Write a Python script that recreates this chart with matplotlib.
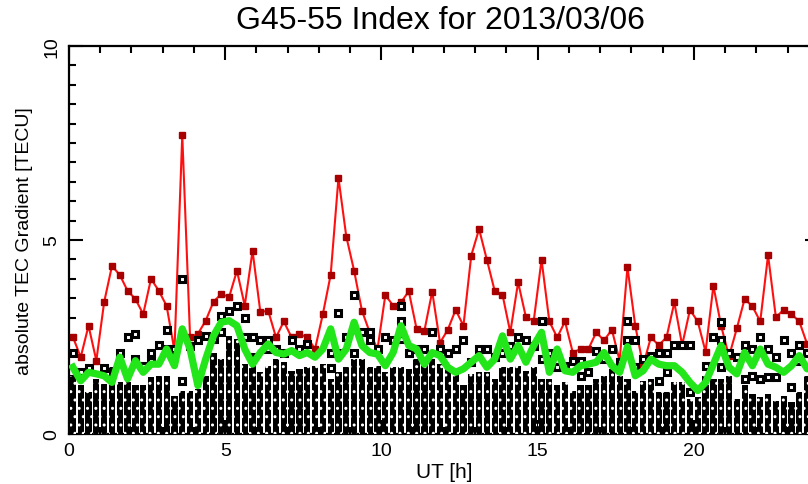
import matplotlib
matplotlib.use("Agg")
import matplotlib.pyplot as plt
import numpy as np

plt.rcParams['font.family'] = ['Liberation Sans Narrow', 'Liberation Sans', 'DejaVu Sans']
plt.rcParams['hatch.color'] = 'white'
plt.rcParams['hatch.linewidth'] = 1.0

# 15-minute bins, centred
ut = np.arange(96) * 0.25 + 0.125

# maximum gradient per bin (red)
grad_max = [2.50, 1.98, 2.79, 1.89, 3.40, 4.33, 4.10, 3.69, 3.48, 3.09, 4.00, 3.69,
            3.30, 2.15, 7.70, 2.50, 2.58, 2.92, 3.41, 3.61, 3.53, 4.21, 3.31, 4.72,
            3.14, 3.18, 2.49, 2.90, 2.49, 2.58, 2.49, 2.19, 3.09, 4.10, 6.60, 5.09,
            4.21, 3.18, 2.62, 2.19, 3.58, 3.31, 3.39, 3.68, 2.71, 2.66, 3.67, 2.35,
            2.69, 3.20, 2.79, 4.60, 5.28, 4.49, 3.69, 3.59, 2.62, 3.91, 3.01, 2.92,
            4.49, 2.90, 2.49, 2.90, 2.10, 2.19, 2.19, 2.62, 2.41, 2.69, 1.89, 4.30,
            2.79, 1.76, 2.49, 2.29, 2.49, 3.39, 2.29, 3.20, 2.90, 2.12, 3.82, 2.78,
            2.00, 2.72, 3.48, 3.29, 2.90, 4.61, 3.01, 3.20, 3.09, 2.90, 2.32, 2.53]

# mean gradient per bin (green)
grad_mean = [1.72, 1.37, 1.59, 1.55, 1.50, 1.33, 1.98, 1.42, 1.89, 1.59, 1.80, 1.80,
             2.19, 1.76, 2.71, 2.19, 1.25, 1.93, 2.53, 2.88, 2.92, 2.79, 2.19, 1.80,
             2.10, 2.32, 2.10, 2.06, 2.15, 2.02, 2.10, 1.98, 2.19, 2.71, 1.93, 2.19,
             2.88, 2.28, 2.10, 2.06, 1.76, 2.10, 2.79, 2.28, 2.19, 1.80, 2.10, 2.02,
             1.72, 1.59, 1.68, 1.85, 2.02, 1.72, 1.93, 2.53, 1.93, 2.28, 1.85, 2.28,
             2.62, 1.59, 2.19, 1.63, 1.59, 1.76, 1.80, 1.85, 2.10, 1.76, 1.59, 2.25,
             1.50, 1.63, 1.93, 1.80, 1.76, 1.76, 1.59, 1.33, 1.12, 1.33, 1.80, 2.28,
             1.72, 1.55, 2.10, 1.76, 2.19, 1.80, 1.72, 1.59, 1.76, 2.02, 1.68, 1.80]

# level up to which the single-link values are packed together
dense_top = [1.50, 1.25, 1.07, 1.42, 1.29, 1.72, 1.33, 1.33, 1.25, 1.25, 1.46, 1.50,
             1.50, 0.99, 1.12, 1.12, 1.16, 1.50, 2.10, 1.93, 2.53, 2.45, 1.80, 2.10,
             1.59, 1.76, 1.93, 1.85, 1.63, 1.68, 1.72, 1.76, 1.80, 1.42, 1.59, 1.72,
             1.93, 1.93, 1.72, 1.76, 1.59, 1.72, 1.72, 1.68, 1.93, 1.93, 1.93, 1.80,
             1.72, 1.59, 1.25, 1.55, 1.59, 1.59, 1.42, 1.72, 1.72, 1.76, 1.63, 1.72,
             1.42, 1.42, 1.25, 1.33, 1.12, 1.25, 1.25, 1.42, 1.50, 1.68, 1.50, 1.42,
             1.12, 1.37, 1.42, 1.07, 1.07, 1.33, 1.33, 0.90, 0.95, 1.50, 1.42, 1.42,
             1.50, 0.90, 1.25, 1.03, 0.95, 1.03, 0.86, 0.99, 0.82, 1.07, 1.50, 1.50]

# isolated single-link values above the packed part (bin index, value)
extra_bin = [0, 1, 2, 4, 6, 7, 8, 8, 9, 10, 10, 11, 12, 12, 13, 14, 14, 15, 16, 17,
             18, 19, 19, 20, 21, 22, 22, 23, 24, 25, 25, 26, 27, 28, 29, 30, 33, 33,
             34, 34, 35, 36, 36, 37, 38, 38, 39, 40, 41, 42, 42, 42, 43, 44, 45, 46,
             47, 48, 49, 50, 51, 52, 53, 54, 55, 56, 57, 58, 59, 60, 60, 61, 62, 63,
             64, 65, 65, 66, 67, 68, 69, 70, 71, 71, 72, 72, 73, 74, 75, 75, 76, 76,
             77, 78, 79, 79, 81, 82, 83, 83, 83, 84, 85, 86, 86, 87, 87, 88, 88, 89,
             89, 90, 90, 91, 92, 92, 93, 93, 94]
extra_val = [2.10, 1.59, 1.69, 1.69, 2.10, 2.49, 2.58, 1.93, 1.76, 2.10, 1.89, 2.29,
             2.69, 2.19, 2.19, 4.00, 1.37, 2.28, 2.41, 2.53, 2.45, 3.05, 2.62, 3.18,
             3.31, 2.99, 2.49, 2.49, 2.41, 2.41, 2.19, 2.19, 2.10, 2.41, 2.19, 2.32,
             2.10, 1.69, 3.11, 2.10, 2.49, 3.59, 2.10, 2.62, 2.62, 2.41, 2.19, 2.49,
             2.41, 3.29, 2.92, 2.45, 2.10, 2.19, 2.19, 2.62, 2.19, 2.10, 2.19, 2.41,
             1.85, 2.19, 2.19, 1.98, 2.10, 2.28, 2.49, 2.41, 2.28, 2.90, 1.93, 2.10,
             1.72, 1.76, 1.89, 1.89, 1.50, 1.59, 2.15, 1.93, 2.19, 1.85, 2.90, 2.41,
             2.41, 1.72, 1.93, 2.02, 2.10, 1.37, 2.10, 1.59, 2.29, 2.29, 2.29, 1.07,
             1.76, 2.49, 2.88, 2.41, 1.72, 2.10, 1.98, 2.29, 1.42, 2.19, 1.50, 2.49,
             1.42, 2.19, 1.46, 1.98, 1.46, 2.41, 2.10, 1.20, 2.29, 1.89, 2.10]

fig = plt.figure(figsize=(8.08, 4.85), dpi=100)
ax = fig.add_axes([0.0854, 0.1031, 0.928, 0.80])

ax.plot(ut, grad_max, color='#ff1010', lw=1.5, marker='s', ms=3.8,
        mfc='#a80000', mec='#a80000', zorder=2)

ax.bar(ut, dense_top, width=0.2, color='black', edgecolor='white', lw=0,
       hatch='..', zorder=3)
ax.plot(ut[extra_bin], extra_val, ls='none', marker='s', ms=4.0, mfc='white',
        mec='black', mew=2.2, zorder=3)

ax.plot(ut, grad_mean, color='#22e51a', lw=5.2, solid_joinstyle='round', zorder=4)

ax.set_xlim(0, 24)
ax.set_ylim(0, 10)
ax.set_xticks([0, 5, 10, 15, 20])
ax.set_xticks(np.arange(0, 25, 1), minor=True)
ax.set_yticks([0, 5, 10])
ax.set_yticks(np.arange(0, 10.5, 0.5), minor=True)
ax.tick_params(which='both', direction='in', top=True, right=True, width=1.5)
ax.tick_params(which='major', length=10, labelsize=14, pad=6)
ax.tick_params(which='minor', length=5)
for lbl in ax.get_yticklabels():
    lbl.set_rotation(90)
    lbl.set_va('center')
for sp in ax.spines.values():
    sp.set_linewidth(1.6)

ax.set_xlabel("UT [h]", fontsize=15, labelpad=2)
ax.set_ylabel("absolute TEC Gradient [TECU]", fontsize=14, labelpad=8)
fig.text(0.545, 0.957, "G45-55 Index for 2013/03/06", ha='center', va='center',
         fontsize=23, family=['Liberation Sans', 'DejaVu Sans'])

fig.savefig("out.png", dpi=100)
